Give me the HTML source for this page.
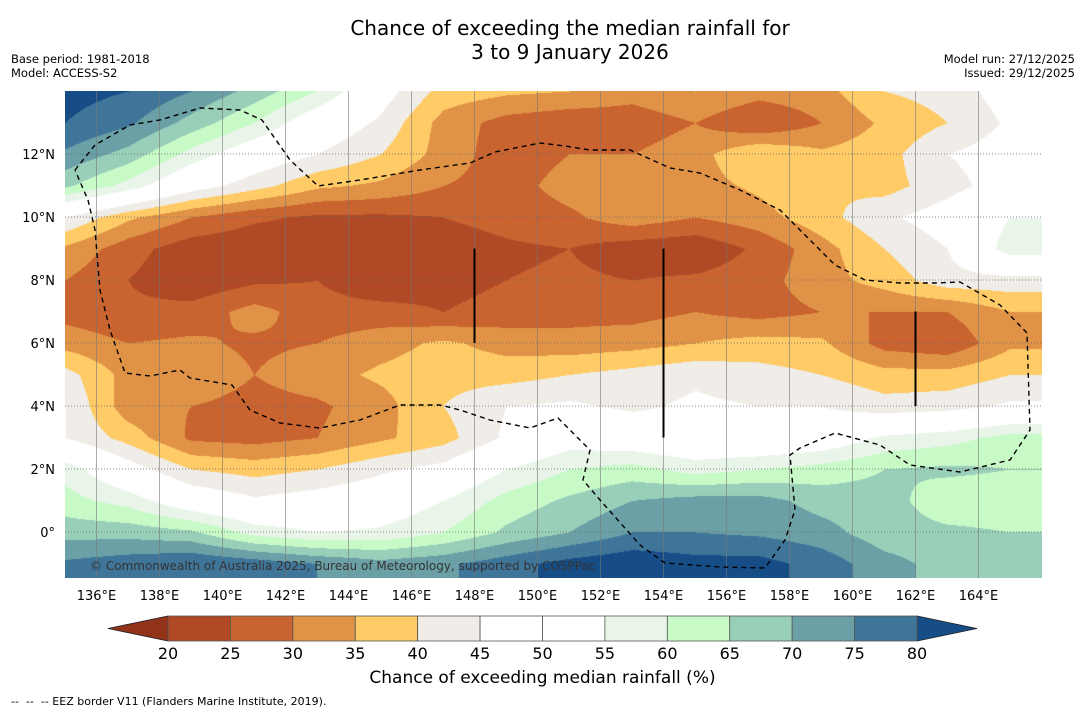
<!DOCTYPE html>
<html><head><meta charset="utf-8"><style>
body{margin:0;width:1085px;height:713px;background:#fff;font-family:"Liberation Sans","DejaVu Sans",sans-serif;position:relative;overflow:hidden}
.t{position:absolute;white-space:nowrap;color:#000}
</style></head><body>
<div class="t" style="left:0;width:1140px;text-align:center;top:16px;font-size:20px;line-height:24px;font-family:'DejaVu Sans',sans-serif">Chance of exceeding the median rainfall for<br>3 to 9 January 2026</div>
<div class="t" style="left:11px;top:52px;font-size:11.5px;line-height:14px;font-family:'DejaVu Sans',sans-serif">Base period: 1981-2018<br>Model: ACCESS-S2</div>
<div class="t" style="right:10px;top:52px;font-size:11.5px;line-height:14px;text-align:right;font-family:'DejaVu Sans',sans-serif">Model run: 27/12/2025<br>Issued: 29/12/2025</div>
<canvas id="map" width="977" height="487" style="position:absolute;left:65px;top:91px"></canvas>
<svg id="ov" width="1085" height="713" style="position:absolute;left:0;top:0"></svg>
<div class="t" style="left:90px;top:559px;font-size:12px;color:#333;font-family:'DejaVu Sans',sans-serif">© Commonwealth of Australia 2025, Bureau of Meteorology, supported by COSPPac</div>
<div class="t" style="left:0;width:1085px;text-align:center;top:668px;font-size:17px;font-family:'DejaVu Sans',sans-serif">Chance of exceeding median rainfall (%)</div>
<div class="t" style="left:11px;top:695px;font-size:11px;font-family:'DejaVu Sans',sans-serif">-- &nbsp;-- &nbsp;-- EEZ border V11 (Flanders Marine Institute, 2019).</div>
<script>
const lons=[135,137,139,141,143,145,147,149,151,153,155,157,159,161,163,165];
const lats=[14,13,12,11,10,9,8,7,6,5,4,3,2,1,0,-1];
const r14=[82,80,75,68,60,48,38,36,35,32,35,32,33,40,42,48];
const r13=[80,76,68,60,50,44,33,28,26,27,30,25,30,36,40,46];
const r12=[74,68,58,50,45,40,33,27,30,30,33,40,36,38,45,48];
const r11=[66,58,48,42,36,34,30,28,32,33,33,36,40,38,43,48];
const r10=[45,36,30,26,24,24,25,27,29,33,30,33,38,44,48,55];
const r9=[34,27,22,21,21,20,22,24,25,22,21,26,33,40,45,58];
const r8=[30,25,21,24,25,21,23,25,26,25,26,28,33,37,43,43];
const r7=[28,26,27,32,27,27,25,27,28,28,30,28,30,30,30,35];
const r6=[33,30,31,29,30,33,36,33,32,33,35,37,36,28,26,34];
const r5=[42,33,34,30,33,36,38,38,40,42,44,42,40,37,37,40];
const r4=[45,32,30,28,29,33,40,45,46,44,46,45,45,42,43,46];
const r3=[45,38,29,28,30,34,38,46,52,50,48,48,50,56,58,62];
const r2=[58,48,40,38,40,44,47,55,60,62,58,60,62,65,66,65];
const r1=[62,58,50,46,48,50,55,62,66,70,72,72,68,67,62,62];
const r0=[68,68,66,58,55,56,60,66,70,75,75,74,72,67,66,65];
const rm1=[76,78,80,78,75,72,74,78,82,84,82,82,78,72,68,66];
const grid=[r14,r13,r12,r11,r10,r9,r8,r7,r6,r5,r4,r3,r2,r1,r0,rm1];
const levels=[20,25,30,35,40,45,50,55,60,65,70,75,80];
const cols=['#923219','#b04a26','#c9632f','#e09346','#fecb66','#f0ece7','#ffffff','#ffffff','#eaf5ea','#c8fac8','#99cfb8','#6aa0a6','#3f7599','#174d87'];
const lonTicks=[136,138,140,142,144,146,148,150,152,154,156,158,160,162,164];
const latTicks=[12,10,8,6,4,2,0];
const X0=65,Y0=91,W=977,H=487;
const xOf=lon=>X0+(lon-135)*31.5;
const yOf=lat=>Y0+(14-lat)*31.5;
const lonOf=px=>135+(px-X0)/31.5;
const latOf=py=>14-(py-Y0)/31.5;
function hex(c){return [parseInt(c.substr(1,2),16),parseInt(c.substr(3,2),16),parseInt(c.substr(5,2),16)];}
const rgb=cols.map(hex);
function val(lon,lat){
  let fi=(lon-lons[0])/(lons[1]-lons[0]);let fj=(lats[0]-lat)/(lats[0]-lats[1]);
  fi=Math.max(0,Math.min(lons.length-1.001,fi));fj=Math.max(0,Math.min(lats.length-1.001,fj));
  const i=Math.floor(fi),j=Math.floor(fj),a=fi-i,b=fj-j;
  return grid[j][i]*(1-a)*(1-b)+grid[j][i+1]*a*(1-b)+grid[j+1][i]*(1-a)*b+grid[j+1][i+1]*a*b;
}
const cv=document.getElementById('map'),ctx=cv.getContext('2d');
const img=ctx.createImageData(W,H);
for(let y=0;y<H;y++)for(let x=0;x<W;x++){
  const v=val(lonOf(X0+x),latOf(Y0+y));let k=0;while(k<levels.length&&v>=levels[k])k++;
  const c=rgb[k],p=(y*W+x)*4;img.data[p]=c[0];img.data[p+1]=c[1];img.data[p+2]=c[2];img.data[p+3]=255;
}
ctx.putImageData(img,0,0);
const NS='http://www.w3.org/2000/svg',ov=document.getElementById('ov');
function mk(t,a){const e=document.createElementNS(NS,t);for(const k in a)e.setAttribute(k,a[k]);ov.appendChild(e);return e;}
lonTicks.forEach(l=>{
  const e=mk('line',{x1:xOf(l),x2:xOf(l),y1:Y0,y2:Y0+H,stroke:'#777','stroke-width':0.6});
  
  
  const t=mk('text',{x:xOf(l),y:600,'text-anchor':'middle','font-size':13,'font-family':'DejaVu Sans,sans-serif'});t.textContent=l+'°E';
  
  
});
latTicks.forEach(l=>{
  const e=mk('line',{x1:X0,x2:X0+W,y1:yOf(l),y2:yOf(l),stroke:'#666','stroke-width':0.7,'stroke-dasharray':'1,2'});
  
  
  const t=mk('text',{x:55,y:yOf(l)+5,'text-anchor':'end','font-size':13,'font-family':'DejaVu Sans,sans-serif'});t.textContent=l===0?'0°':l+'°N';
  
  
});
[[148,9,6],[154,9,3],[162,7,4]].forEach(s=>{const e=mk('line',{x1:xOf(s[0]),x2:xOf(s[0]),y1:yOf(s[1]),y2:yOf(s[2]),stroke:'#000','stroke-width':2});
  
  });
const eez=[[75,170],[95,145],[130,125],[160,120],[200,108],[240,110],[262,120],[290,160],[318,186],[360,180],[420,170],[470,163],[495,152],[540,143],[565,146],[590,150],[630,150],[670,168],[700,173],[740,190],[780,210],[810,240],[835,265],[865,280],[900,283],[935,283],[960,282],[1000,305],[1027,333],[1030,430],[1010,460],[960,472],[910,465],[880,445],[835,433],[800,448],[790,455],[795,510],[785,540],[765,568],[720,567],[665,563],[640,545],[600,500],[583,480],[590,450],[558,418],[530,428],[490,420],[460,410],[440,405],[400,405],[360,420],[320,428],[280,423],[250,410],[232,385],[190,378],[180,370],[150,376],[125,373],[110,330],[100,290],[95,230],[88,200],[75,170]];
const ep=mk('polyline',{points:eez.map(p=>p.join(',')).join(' '),fill:'none',stroke:'#000','stroke-width':1.4,'stroke-dasharray':'5,4'});


const cbX=168,cbW=749,cbY=616,cbH=25,seg=cbW/12;
const lt=mk('polygon',{points:`108,${cbY+cbH/2} ${cbX},${cbY} ${cbX},${cbY+cbH}`,fill:cols[0],stroke:'#222','stroke-width':0.8});


const rt=mk('polygon',{points:`977,${cbY+cbH/2} ${cbX+cbW},${cbY} ${cbX+cbW},${cbY+cbH}`,fill:cols[13],stroke:'#222','stroke-width':0.8});


for(let i=0;i<12;i++){const r=mk('rect',{x:cbX+i*seg,y:cbY,width:seg,height:cbH,fill:cols[i+1],stroke:'#555','stroke-width':0.8});
  
  }
levels.forEach((l,i)=>{const t=mk('text',{x:cbX+i*seg,y:cbY+cbH+18,'text-anchor':'middle','font-size':16,'font-family':'DejaVu Sans,sans-serif'});t.textContent=l;
  
  });
</script>
</body></html>
